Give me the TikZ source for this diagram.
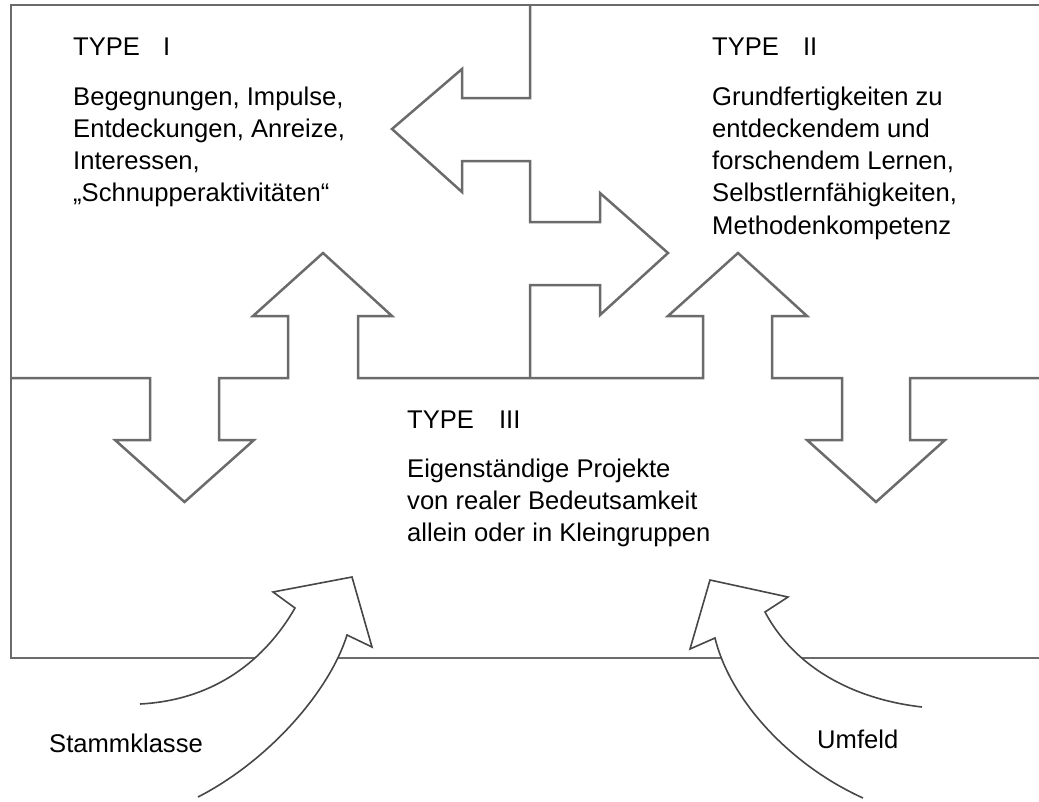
\documentclass[tikz,border=0pt]{standalone}
\usepackage{fontspec}
\setmainfont{Liberation Sans}
\begin{document}
\begin{tikzpicture}[x=1pt,y=-1pt,
  frame/.style={draw=black!58,line width=2.5pt,line join=miter},
  curvearrow/.style={draw=black!72,line width=1.6pt,fill=white,line join=miter},
  txt/.style={anchor=base west,inner sep=0pt,text=black,font=\fontsize{25.6}{32.3}\selectfont}]
\useasboundingbox (0,0) rectangle (1039,801);
% outer frame: top, left, bottom
\draw[frame] (1039,5) -- (11,5) -- (11,658) -- (1039,658);
% boundary between Type I and Type II with left/right arrows
\draw[frame] (530,5) -- (530,98) -- (462,98) -- (462,69) -- (392,129) -- (462,192) -- (462,161)
  -- (530,161) -- (530,222) -- (600,222) -- (600,193) -- (668,253) -- (600,315) -- (600,285)
  -- (530,285) -- (530,378);
% boundary between Type I/II and Type III with up/down arrows
\draw[frame] (11,378) -- (150,378) -- (150,440) -- (115,440) -- (184.5,502) -- (254,440) -- (219,440)
  -- (219,378) -- (288,378) -- (288,316) -- (253,316) -- (323,253) -- (392,316) -- (358,316)
  -- (358,378) -- (703,378) -- (703,316) -- (668,316) -- (738,253) -- (807,316) -- (772,316)
  -- (772,378) -- (842,378) -- (842,440) -- (807,440) -- (876,502) -- (945,440) -- (910,440)
  -- (910,378) -- (1039,378);
% curved arrows entering from below
\path[curvearrow] (140,704) .. controls (215,700) and (265,660) .. (295,608) -- (273,592) -- (352,577)
  -- (372,647) -- (347,635) .. controls (330,690) and (270,760) .. (198,797);
\path[curvearrow] (922,707) .. controls (860,700) and (797,672) .. (765,612) -- (788,597) -- (710,580)
  -- (690,649) -- (715,638) .. controls (730,700) and (790,765) .. (863,798);
% texts
\node[txt] (h1) at (73,55) {TYPE\hspace{23pt}I};
\node[txt] (b1) at (73,105) {\begin{tabular}[t]{@{}l@{}}Begegnungen, Impulse,\\Entdeckungen, Anreize,\\Interessen,\\„Schnupperaktivitäten“\end{tabular}};
\node[txt] (h2) at (712,55) {TYPE\hspace{24pt}II};
\node[txt] (b2) at (712,105) {\begin{tabular}[t]{@{}l@{}}Grundfertigkeiten zu\\entdeckendem und\\forschendem Lernen,\\Selbstlernfähigkeiten,\\Methodenkompetenz\end{tabular}};
\node[txt] (h3) at (407,428) {TYPE\hspace{25pt}III};
\node[txt] (b3) at (407,477) {\begin{tabular}[t]{@{}l@{}}Eigenständige Projekte\\von realer Bedeutsamkeit\\allein oder in Kleingruppen\end{tabular}};
\node[txt] (s) at (49,752) {Stammklasse};
\node[txt] (u) at (817,748) {Umfeld};
\end{tikzpicture}
\end{document}
